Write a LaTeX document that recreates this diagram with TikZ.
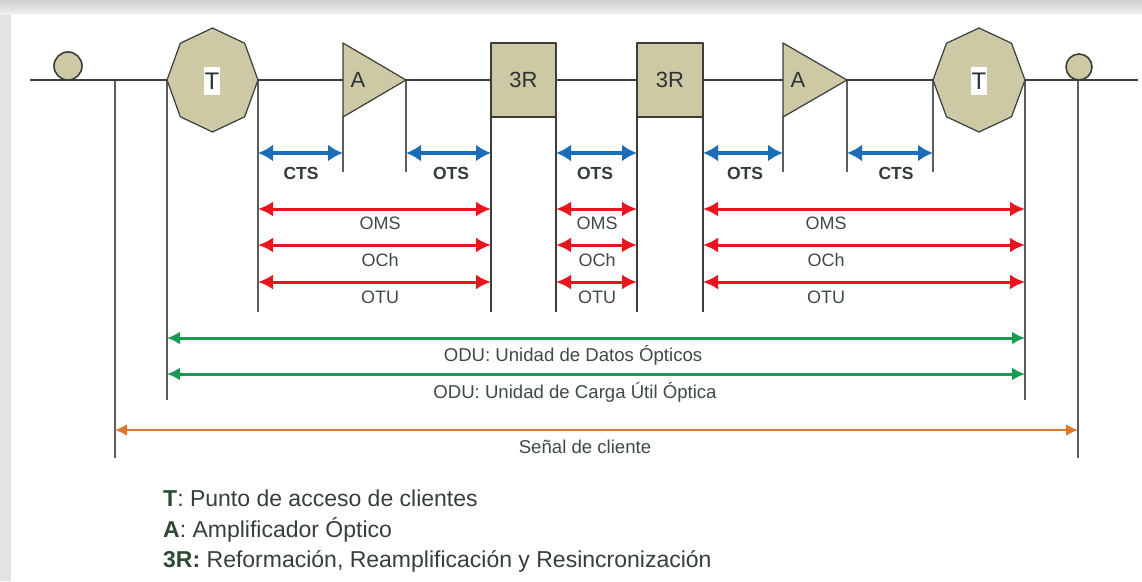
\documentclass[tikz,border=0pt]{standalone}
\usepackage{fontspec}
\setmainfont{Liberation Sans}
\usetikzlibrary{arrows.meta}

\definecolor{khaki}{HTML}{CCC9A4}
\definecolor{edgec}{HTML}{3A3D3A}
\definecolor{vcol}{HTML}{5A5E5C}
\definecolor{blu}{HTML}{1C6DB8}
\definecolor{rd}{HTML}{E8141E}
\definecolor{grn}{HTML}{179A52}
\definecolor{org}{HTML}{E0762A}
\definecolor{txt}{HTML}{3E4A48}
\definecolor{legk}{HTML}{2E4A30}

\tikzset{
  sym/.style={fill=khaki, draw=edgec, line width=1.2pt, line join=round},
  mainline/.style={draw=edgec, line width=1.8pt},
  outerline/.style={draw=edgec, line width=2.6pt},
  vline/.style={draw=vcol, line width=1.3pt},
  dbl/.style 2 args={{Latex[length=#1,width=#2]}-{Latex[length=#1,width=#2]}},
  bluearr/.style={blu, line width=3.6pt, dbl={15pt}{17pt}},
  redarr/.style={rd, line width=3pt, dbl={15pt}{15pt}},
  grnarr/.style={grn, line width=3pt, dbl={13pt}{13pt}},
  orgarr/.style={org, line width=2.6pt, dbl={12pt}{12pt}},
  lab/.style={text=txt, inner sep=0pt, font=\fontsize{18}{18}\selectfont},
  wlab/.style={lab, font=\fontsize{18.6}{18.6}\selectfont},
  blab/.style={text=txt!80!black, inner sep=0pt, font=\bfseries\fontsize{17.5}{17.5}\selectfont},
  symlab/.style={text=txt!70!black, inner sep=1pt, font=\fontsize{24}{24}\selectfont},
  leg/.style={anchor=base west, text=txt!85!black, inner sep=0pt, font=\fontsize{23}{23}\selectfont},
}

\begin{document}
\begin{tikzpicture}[x=1pt, y=-1pt]
\useasboundingbox (0,0) rectangle (1142,581);

% panel with a soft grey edge along the top and the left
\fill[gray!22] (0,0) rectangle (1142,581);
\shade[top color=gray!38, bottom color=gray!12] (0,0) rectangle (1142,14);
\fill[white] (11,14) rectangle (1142,581);

% columns (points where the vertical guide lines start)
\coordinate (lineL) at (30,80);
\coordinate (lineR) at (1138,80);
\coordinate (cL)  at (115,80);
\coordinate (t1l) at (167,80);
\coordinate (t1r) at (258,80);
\coordinate (a1l) at (343,117);
\coordinate (a1r) at (406,80);
\coordinate (r1l) at (491,117);
\coordinate (r1r) at (556,117);
\coordinate (r2l) at (637,117);
\coordinate (r2r) at (703,117);
\coordinate (a2l) at (783,117);
\coordinate (a2r) at (847,80);
\coordinate (t2l) at (933,80);
\coordinate (t2r) at (1025,80);
\coordinate (cR)  at (1078,80);

% levels
\coordinate (ySec)  at (0,153);
\coordinate (ySecE) at (0,172);
\coordinate (yOMS)  at (0,209);
\coordinate (yOCh)  at (0,245);
\coordinate (yOTU)  at (0,282);
\coordinate (yRedE) at (0,312);
\coordinate (yODU)  at (0,338);
\coordinate (yOPU)  at (0,374);
\coordinate (yGrnE) at (0,400);
\coordinate (yCli)  at (0,430);
\coordinate (yCliE) at (0,458);

% vertical guide lines
\draw[vline] (cL) -- (cL |- yCliE);
\draw[vline] (cR) -- (cR |- yCliE);
\draw[vline] (t1l) -- (t1l |- yGrnE);
\draw[vline] (t2r) -- (t2r |- yGrnE);
\draw[vline] (t1r) -- (t1r |- yRedE);
\draw[vline] (a1l) -- (a1l |- ySecE);
\draw[vline] (a1r) -- (a1r |- ySecE);
\draw[vline] (a2l) -- (a2l |- ySecE);
\draw[vline] (a2r) -- (a2r |- ySecE);
\draw[vline] (t2l) -- (t2l |- ySecE);
\draw[vline, draw=edgec] (r1l) -- (r1l |- yRedE);
\draw[vline, draw=edgec] (r1r) -- (r1r |- yRedE);
\draw[vline, draw=edgec] (r2l) -- (r2l |- yRedE);
\draw[vline, draw=edgec] (r2r) -- (r2r |- yRedE);

% fibre line
\draw[mainline] (lineL) -- (lineR);
\draw[outerline] (lineL) -- (t1l);
\draw[outerline] (t2r) -- (lineR);

% end points on the fibre
\draw[sym, line width=1.6pt] (68,66) circle (14);
\draw[sym, line width=1.6pt] (1079,67) circle (13);

% terminal points (octagons)
\draw[sym] (212.5,80) +(90:45.5 and 52) -- +(135:45.5 and 52) -- +(180:45.5 and 52)
  -- +(225:45.5 and 52) -- +(270:45.5 and 52) -- +(315:45.5 and 52)
  -- +(0:45.5 and 52) -- +(45:45.5 and 52) -- cycle;
\draw[sym] (979,80) +(90:46 and 52) -- +(135:46 and 52) -- +(180:46 and 52)
  -- +(225:46 and 52) -- +(270:46 and 52) -- +(315:46 and 52)
  -- +(0:46 and 52) -- +(45:46 and 52) -- cycle;
\node[symlab, fill=white, inner ysep=6pt] (T1) at (212,81) {T};
\node[symlab, fill=white, inner ysep=6pt] (T2) at (979,81) {T};

% optical amplifiers
\draw[sym] (343,43) -- (406,80) -- (343,117) -- cycle;
\draw[sym] (783,43) -- (847,80) -- (783,117) -- cycle;
\node[symlab, font=\fontsize{22}{22}\selectfont] (A1) at (358,80) {A};
\node[symlab, font=\fontsize{22}{22}\selectfont] (A2) at (798,80) {A};

% 3R regenerators
\draw[sym] (491,43) rectangle (556,117);
\draw[sym] (637,43) rectangle (703,117);
\node[symlab, font=\fontsize{22}{22}\selectfont] (R1) at (523.5,80) {3R};
\node[symlab, font=\fontsize{22}{22}\selectfont] (R2) at (670,80) {3R};

% section layer (blue)
\draw[bluearr] (t1r |- ySec) -- (a1l |- ySec);
\draw[bluearr] (a1r |- ySec) -- (r1l |- ySec);
\draw[bluearr] (r1r |- ySec) -- (r2l |- ySec);
\draw[bluearr] (r2r |- ySec) -- (a2l |- ySec);
\draw[bluearr] (a2r |- ySec) -- (t2l |- ySec);
\node[blab] (cts1) at (301,173) {CTS};
\node[blab] (ots1) at (451,173) {OTS};
\node[blab] (ots2) at (595,173) {OTS};
\node[blab] (ots3) at (745,173) {OTS};
\node[blab] (cts2) at (896,173) {CTS};

% multiplex, channel and transport unit layers (red)
\foreach \lv in {yOMS, yOCh, yOTU} {
  \draw[redarr] (t1r |- \lv) -- (r1l |- \lv);
  \draw[redarr] (r1r |- \lv) -- (r2l |- \lv);
  \draw[redarr] (r2r |- \lv) -- (t2r |- \lv);
}
\node[lab] (oms1) at (380,223) {OMS};
\node[lab] (och1) at (380,260) {OCh};
\node[lab] (otu1) at (380,297) {OTU};
\node[lab] (oms2) at (597,223) {OMS};
\node[lab] (och2) at (597,260) {OCh};
\node[lab] (otu2) at (597,297) {OTU};
\node[lab] (oms3) at (826,223) {OMS};
\node[lab] (och3) at (826,260) {OCh};
\node[lab] (otu3) at (826,297) {OTU};

% data and payload units (green)
\draw[grnarr] (t1l |- yODU) -- (t2r |- yODU);
\draw[grnarr] (t1l |- yOPU) -- (t2r |- yOPU);
\node[wlab] (odu) at (573,355) {ODU: Unidad de Datos Ópticos};
\node[wlab] (opu) at (575,392) {ODU: Unidad de Carga Útil Óptica};

% client signal (orange)
\draw[orgarr] (cL |- yCli) -- (cR |- yCli);
\node[wlab] (cli) at (585,447) {Señal de cliente};

% key
\node[leg] (k1) at (163,506) {\textcolor{legk}{\textbf{T}}: Punto de acceso de clientes};
\node[leg] (k2) at (163,537) {\textcolor{legk}{\textbf{A}}: Amplificador Óptico};
\node[leg] (k3) at (163,567) {\textcolor{legk}{\textbf{3R:}} Reformación, Reamplificación y Resincronización};
\end{tikzpicture}
\end{document}
